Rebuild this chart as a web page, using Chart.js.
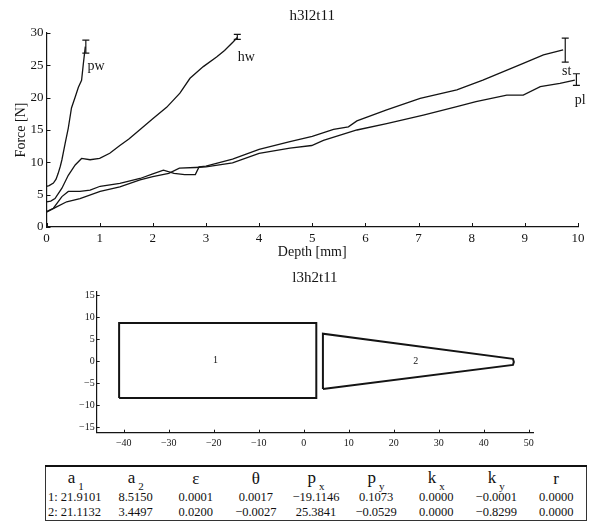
<!DOCTYPE html>
<html>
<head>
<meta charset="utf-8">
<title>h3l2t11 / l3h2t11</title>
<script src="https://cdn.jsdelivr.net/npm/chart.js@4.4.1/dist/chart.umd.min.js"></script>
<style>
  html, body { margin: 0; padding: 0; background: #fff; }
  body {
    width: 589px; height: 525px; position: relative; overflow: hidden;
    font-family: "Liberation Serif", "DejaVu Serif", serif; color: #111;
  }
  #forceChart { position: absolute; left: 0; top: 0; }
  #shapeChart { position: absolute; left: 0; top: 262px; }
  table.params {
    position: absolute; left: 45px; top: 465px; width: 542px;
    border-collapse: collapse; table-layout: fixed;
    border: 1px solid #333; border-top: 2px solid #111;
  }
  table.params th {
    font-weight: normal; font-size: 17px; height: 23px; padding: 0;
    text-align: center; vertical-align: middle;
  }
  table.params th sub { font-size: 11px; position: relative; top: 3px; margin-left: 3px; }
  table.params td {
    font-size: 12.5px; height: 15px; line-height: 15px; padding: 0;
    text-align: center; white-space: nowrap;
  }
  table.params td:first-child { text-align: left; padding-left: 2px; }
</style>
</head>
<body>
<canvas id="forceChart" width="589" height="262"></canvas>
<canvas id="shapeChart" width="589" height="190"></canvas>
<table class="params">
  <thead>
    <tr>
      <th>a<sub>1</sub></th><th>a<sub>2</sub></th><th>&epsilon;</th><th>&theta;</th>
      <th>p<sub>x</sub></th><th>p<sub>y</sub></th><th>k<sub>x</sub></th><th>k<sub>y</sub></th><th>r</th>
    </tr>
  </thead>
  <tbody id="paramRows"></tbody>
</table>
<script>
// ---- force / depth curves (depth in mm, force in N) ----
const pwDepth = [0, 0.05, 0.13, 0.18, 0.22, 0.26, 0.29, 0.35, 0.41, 0.47, 0.54, 0.60, 0.66, 0.69, 0.73];
const pwForce = [6.3, 6.4, 6.8, 7.4, 8.3, 9.4, 10.4, 12.9, 15.3, 18.4, 20.1, 21.6, 22.7, 25.0, 27.9];

const hwDepth = [0, 0.08, 0.16, 0.29, 0.41, 0.54, 0.66, 0.82, 1.0, 1.19, 1.38, 1.55, 1.75, 2.01, 2.26, 2.51, 2.70, 2.95, 3.20, 3.35, 3.51, 3.59];
const hwForce = [3.9, 4.0, 4.4, 6.0, 8.0, 9.6, 10.6, 10.4, 10.6, 11.4, 12.6, 13.6, 15.0, 16.8, 18.5, 20.7, 23.0, 24.8, 26.3, 27.3, 28.6, 29.3];

const stDepth = [0, 0.13, 0.29, 0.41, 0.63, 0.82, 1.01, 1.38, 1.76, 2.0, 2.2, 2.4, 2.6, 2.8, 2.87, 3.0, 3.5, 4.0, 4.58, 5.0, 5.4, 5.68, 5.84, 6.4, 7.03, 7.72, 8.21, 8.97, 9.35, 9.72];
const stForce = [2.4, 2.9, 4.7, 5.5, 5.5, 5.7, 6.3, 6.75, 7.5, 8.2, 8.8, 8.3, 8.1, 8.1, 9.3, 9.4, 10.5, 12.0, 13.2, 14.0, 15.1, 15.5, 16.4, 18.1, 19.9, 21.2, 22.7, 25.3, 26.6, 27.4];

const plDepth = [0, 0.19, 0.38, 0.63, 1.01, 1.38, 1.76, 2.0, 2.3, 2.5, 2.8, 3.0, 3.5, 4.0, 4.58, 4.99, 5.21, 5.84, 6.4, 7.09, 7.72, 8.08, 8.66, 8.97, 9.29, 9.66, 9.94];
const plForce = [2.3, 3.1, 3.9, 4.4, 5.5, 6.2, 7.3, 7.8, 8.3, 9.1, 9.2, 9.3, 9.9, 11.4, 12.2, 12.6, 13.4, 15.0, 16.0, 17.3, 18.6, 19.4, 20.4, 20.4, 21.7, 22.2, 22.7];

// end-of-curve error bars: depth, low, high
const errDepth = [0.74, 3.59, 9.76, 9.97];
const errLow = [26.9, 29.0, 25.5, 21.9];
const errHigh = [28.9, 29.8, 29.2, 23.7];

const curveNames = ['pw', 'hw', 'st', 'pl'];
const nameDepth = [0.77, 3.6, 9.7, 9.94];
const nameForce = [24.8, 26.3, 24.0, 19.6];

const depthTicks = [0, 1, 2, 3, 4, 5, 6, 7, 8, 9, 10];
const forceTicks = [0, 5, 10, 15, 20, 25, 30];

// ---- fitted contours (mm) ----
const shape1X = [-41.02, 2.80, 2.80, -41.02, -41.02];
const shape1Y = [-8.41, -8.41, 8.62, 8.62, -8.41];
const shape2X = [4.27, 46.5, 46.7, 46.5, 4.27, 4.27];
const shape2Y = [-6.36, -0.9, -0.2, 0.5, 6.2, -6.36];
const shapeNames = ['1', '2'];
const shapeNameX = [-19.6, 24.9];
const shapeNameY = [0.1, -0.05];

const shapeXTicks = [-40, -30, -20, -10, 0, 10, 20, 30, 40, 50];
const shapeYTicks = [-15, -10, -5, 0, 5, 10, 15];

// ---- fit parameters ----
const a1 = [21.9101, 21.1132];
const a2 = [8.5150, 3.4497];
const eps = [0.0001, 0.0200];
const theta = [0.0017, -0.0027];
const px = [-19.1146, 25.3841];
const py = [0.1073, -0.0529];
const kx = [0.0000, 0.0000];
const ky = [-0.0001, -0.8299];
const rr = [0.0000, 0.0000];

const ink = '#141414';
Chart.defaults.font.family = '"Liberation Serif", "DejaVu Serif", serif';
Chart.defaults.color = ink;

const toPoints = (xs, ys) => xs.map((v, i) => ({ x: v, y: ys[i] }));
const signed = v => (v < 0 ? '\u2212' : '') + Math.abs(v);
const fixed4 = v => (v < 0 ? '\u2212' : '') + Math.abs(v).toFixed(4);

function lineSet(xs, ys, width) {
  return {
    data: toPoints(xs, ys),
    showLine: true,
    borderColor: ink,
    borderWidth: width,
    pointRadius: 0,
    tension: 0,
    fill: false
  };
}

// axis with no grid; ticks are drawn inward by the plugin below
function plainAxis(extra) {
  return Object.assign({
    type: 'linear',
    grid: { display: false, drawTicks: false },
    border: { display: true, color: ink, width: 1.2 }
  }, extra);
}

const inwardTicks = {
  id: 'inwardTicks',
  afterDatasetsDraw(chart, args, opts) {
    const { ctx, chartArea: a, scales: { x, y } } = chart;
    const len = opts.length || 4;
    ctx.save();
    ctx.strokeStyle = ink;
    ctx.lineWidth = 1;
    x.ticks.forEach(t => {
      const p = Math.round(x.getPixelForValue(t.value)) + 0.5;
      ctx.beginPath(); ctx.moveTo(p, a.bottom); ctx.lineTo(p, a.bottom - len); ctx.stroke();
    });
    y.ticks.forEach(t => {
      const p = Math.round(y.getPixelForValue(t.value)) + 0.5;
      ctx.beginPath(); ctx.moveTo(a.left, p); ctx.lineTo(a.left + len, p); ctx.stroke();
    });
    ctx.restore();
  }
};

const figureText = {
  id: 'figureText',
  afterDraw(chart, args, opts) {
    const { ctx, chartArea: a, scales: { x, y } } = chart;
    ctx.save();
    ctx.fillStyle = ink;
    ctx.strokeStyle = ink;
    ctx.textBaseline = 'middle';

    // error bars with caps
    (opts.bars || []).forEach(b => {
      const bx = x.getPixelForValue(b.x);
      const y0 = y.getPixelForValue(b.lo);
      const y1 = y.getPixelForValue(b.hi);
      ctx.lineWidth = 1.2;
      ctx.beginPath();
      ctx.moveTo(bx, y0); ctx.lineTo(bx, y1);
      ctx.moveTo(bx - 3.5, y0); ctx.lineTo(bx + 3.5, y0);
      ctx.moveTo(bx - 3.5, y1); ctx.lineTo(bx + 3.5, y1);
      ctx.stroke();
    });

    ctx.font = opts.titleFont;
    ctx.textAlign = 'center';
    ctx.fillText(opts.title, (a.left + a.right) / 2, opts.titleY);

    if (opts.xTitle) {
      ctx.font = opts.axisFont;
      ctx.fillText(opts.xTitle, (a.left + a.right) / 2, opts.xTitleY);
    }
    if (opts.yTitle) {
      ctx.save();
      ctx.font = opts.axisFont;
      ctx.translate(opts.yTitleX, (a.top + a.bottom) / 2);
      ctx.rotate(-Math.PI / 2);
      ctx.fillText(opts.yTitle, 0, 0);
      ctx.restore();
    }

    ctx.font = opts.labelFont;
    ctx.textAlign = opts.labelAlign || 'left';
    (opts.labels || []).forEach(l => {
      ctx.fillText(l.text, x.getPixelForValue(l.x), y.getPixelForValue(l.y));
    });
    ctx.restore();
  }
};

// ---- force vs depth ----
new Chart(document.getElementById('forceChart'), {
  type: 'scatter',
  data: {
    datasets: [
      lineSet(pwDepth, pwForce, 1.3),
      lineSet(hwDepth, hwForce, 1.3),
      lineSet(stDepth, stForce, 1.3),
      lineSet(plDepth, plForce, 1.3)
    ]
  },
  options: {
    responsive: false,
    animation: false,
    layout: { padding: { top: 33, right: 11, left: 0, bottom: 0 } },
    plugins: {
      legend: { display: false },
      tooltip: { enabled: false },
      inwardTicks: { length: 4 },
      figureText: {
        title: 'h3l2t11', titleY: 16, titleFont: '15px "Liberation Serif"',
        xTitle: 'Depth [mm]', xTitleY: 252,
        yTitle: 'Force [N]', yTitleX: 21,
        axisFont: '14px "Liberation Serif"',
        labelFont: '14px "Liberation Serif"',
        labels: curveNames.map((t, i) => ({ text: t, x: nameDepth[i], y: nameForce[i] })),
        bars: errDepth.map((d, i) => ({ x: d, lo: errLow[i], hi: errHigh[i] }))
      }
    },
    scales: {
      x: plainAxis({
        min: 0, max: 10,
        ticks: { font: { size: 13 }, padding: 4 },
        afterBuildTicks: s => { s.ticks = depthTicks.map(v => ({ value: v })); },
        afterFit: s => { s.height = 35; s.paddingLeft = 0; s.paddingRight = 0; }
      }),
      y: plainAxis({
        min: 0, max: 30,
        ticks: { font: { size: 13 }, padding: 3 },
        afterBuildTicks: s => { s.ticks = forceTicks.map(v => ({ value: v })); },
        afterFit: s => { s.width = 46.5; s.paddingTop = 0; s.paddingBottom = 0; }
      })
    }
  },
  plugins: [inwardTicks, figureText]
});

// ---- fitted contours ----
new Chart(document.getElementById('shapeChart'), {
  type: 'scatter',
  data: {
    datasets: [
      lineSet(shape1X, shape1Y, 2),
      lineSet(shape2X, shape2Y, 2)
    ]
  },
  options: {
    responsive: false,
    animation: false,
    layout: { padding: { top: 29.5, right: 55.8, left: 0, bottom: 0 } },
    plugins: {
      legend: { display: false },
      tooltip: { enabled: false },
      inwardTicks: { length: 3 },
      figureText: {
        title: 'l3h2t11', titleY: 16, titleFont: '15px "Liberation Serif"',
        labelFont: '10px "Liberation Serif"', labelAlign: 'center',
        labels: shapeNames.map((t, i) => ({ text: t, x: shapeNameX[i], y: shapeNameY[i] }))
      }
    },
    scales: {
      x: plainAxis({
        min: -46, max: 51,
        ticks: { font: { size: 10 }, padding: 5, callback: v => signed(v) },
        afterBuildTicks: s => { s.ticks = shapeXTicks.map(v => ({ value: v })); },
        afterFit: s => { s.height = 19.3; s.paddingLeft = 0; s.paddingRight = 0; }
      }),
      y: plainAxis({
        min: -16.3, max: 15.8,
        ticks: { font: { size: 10 }, padding: 2, callback: v => signed(v) },
        afterBuildTicks: s => { s.ticks = shapeYTicks.map(v => ({ value: v })); },
        afterFit: s => { s.width = 96.7; s.paddingTop = 0; s.paddingBottom = 0; }
      })
    }
  },
  plugins: [inwardTicks, figureText]
});

// ---- parameter table ----
const body = document.getElementById('paramRows');
a1.forEach((v, i) => {
  const cells = [
    (i + 1) + ': ' + v.toFixed(4),
    fixed4(a2[i]), fixed4(eps[i]), fixed4(theta[i]), fixed4(px[i]),
    fixed4(py[i]), fixed4(kx[i]), fixed4(ky[i]), fixed4(rr[i])
  ];
  const tr = document.createElement('tr');
  cells.forEach(c => {
    const td = document.createElement('td');
    td.textContent = c;
    tr.appendChild(td);
  });
  body.appendChild(tr);
});
</script>
</body>
</html>
